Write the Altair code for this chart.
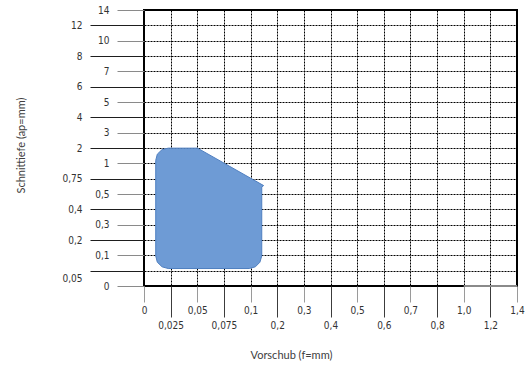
import altair as alt
import pandas as pd

# Tick labels of the two stepped (non-linear) axes
feed_labels = ["0", "0,025", "0,05", "0,075", "0,1", "0,2", "0,3", "0,4",
               "0,5", "0,6", "0,7", "0,8", "1,0", "1,2", "1,4"]
depth_labels = ["0", "0,05", "0,1", "0,2", "0,3", "0,4", "0,5", "0,75", "1",
                "2", "3", "4", "5", "6", "7", "8", "10", "12", "14"]

# Outline of the application zone, in grid steps along each axis
zone_x = [0.44, 0.50, 0.68, 0.91, 2.01, 4.49, 4.42, 4.42, 4.35, 4.18, 3.95,
          0.91, 0.68, 0.50, 0.44, 0.44]
zone_y = [8.19, 8.60, 8.90, 8.99, 8.99, 6.55, 6.46, 1.96, 1.55, 1.25, 1.14,
          1.14, 1.25, 1.55, 1.96, 8.19]

zone = pd.DataFrame({"fx": zone_x, "ay": zone_y, "k": range(len(zone_x))})

n_x = len(feed_labels) - 1
n_y = len(depth_labels) - 1


def label_expr(labels):
    return "[" + ",".join("'" + s + "'" for s in labels) + "][datum.value]"


odd = "datum.value % 2 == 1"
LABEL_FONT = "DejaVu Sans Condensed, DejaVu Sans"
TITLE_FONT = "Lato"

x_axis = alt.Axis(
    values=list(range(n_x + 1)),
    tickCount=100,
    labelExpr=label_expr(feed_labels),
    tickSize={"condition": {"test": odd, "value": 31}, "value": 16},
    tickColor={"condition": {"test": odd, "value": "#3c3c3c"}, "value": "#9a9a9a"},
    tickWidth=1,
    labelPadding=3,
    labelFont=LABEL_FONT,
    labelFontSize=10,
    labelColor="#333333",
    labelOverlap=False,
    labelFlush=False,
    domain=False,
    grid=True,
    gridColor="black",
    gridDash=[2, 1],
    gridWidth=1,
    title="Vorschub (f=mm)",
    titleFont=TITLE_FONT,
    titleFontSize=11,
    titleFontWeight="normal",
    titleColor="#404040",
    titleX=147,
    titleY=69,
    titleBaseline="middle",
)

y_axis = alt.Axis(
    values=list(range(n_y + 1)),
    tickCount=100,
    labelExpr=label_expr(depth_labels),
    tickSize={"condition": {"test": odd, "value": 54}, "value": 27},
    tickColor={"condition": {"test": odd, "value": "#1e1e1e"}, "value": "#8a8a8a"},
    tickWidth=1,
    labelPadding=8,
    labelOffset={"condition": {"test": "datum.value == 1", "value": 8}, "value": 0},
    labelFont=LABEL_FONT,
    labelFontSize=10,
    labelColor="#333333",
    labelOverlap=False,
    labelFlush=False,
    domain=False,
    grid=True,
    gridColor="black",
    gridDash=[2, 1],
    gridWidth=1,
    title="Schnittiefe (ap=mm)",
    titleFont=TITLE_FONT,
    titleFontSize=11,
    titleFontWeight="normal",
    titleColor="#404040",
    titleAngle=270,
    titleX=-123,
    titleY=135,
    titleBaseline="middle",
)

x_scale = alt.Scale(domain=[0, n_x], nice=False, zero=False)
y_scale = alt.Scale(domain=[0, n_y], nice=False, zero=False)

zone_layer = alt.Chart(zone).mark_line(
    fill="#6e9bd5", stroke="#4f7fc0", strokeWidth=1, interpolate="linear"
).encode(
    x=alt.X("fx:Q", scale=x_scale, axis=x_axis),
    y=alt.Y("ay:Q", scale=y_scale, axis=y_axis),
    order="k:O",
)

# lighter stretch of the bottom frame between 1,0 and 1,4
edge = pd.DataFrame({
    "x": [feed_labels.index("1,0")],
    "x2": [n_x],
    "y": [0],
})
edge_layer = alt.Chart(edge).mark_rule(color="#8a8a8a", strokeWidth=2).encode(
    x=alt.X("x:Q", scale=x_scale),
    x2="x2",
    y=alt.Y("y:Q", scale=y_scale),
)

chart = alt.layer(zone_layer, edge_layer).properties(
    width=373,
    height=276,
    autosize=alt.AutoSizeParams(type="none"),
    padding={"left": 144, "top": 10, "right": 10, "bottom": 81},
    background="white",
).configure_view(stroke="black", strokeWidth=2)

chart.save("out.html", embed_options={"renderer": "svg", "actions": False})
